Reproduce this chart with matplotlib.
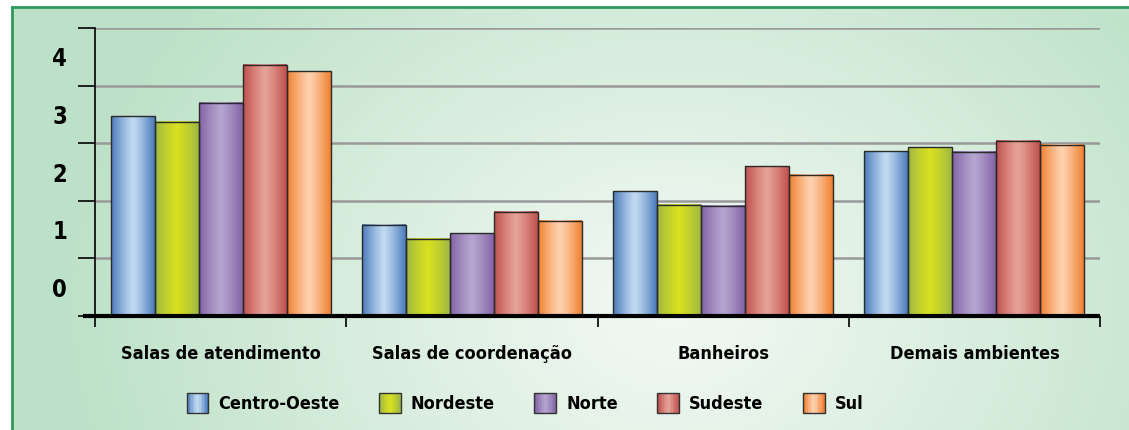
import numpy as np
import matplotlib
matplotlib.use('Agg')
import matplotlib.pyplot as plt
from matplotlib import font_manager
from matplotlib.patches import Rectangle
from matplotlib.lines import Line2D
from matplotlib.legend_handler import HandlerBase
from matplotlib.colors import to_rgb

categories = ['Salas de atendimento', 'Salas de coordenação', 'Banheiros', 'Demais ambientes']
regions = ['Centro-Oeste', 'Nordeste', 'Norte', 'Sudeste', 'Sul']
centro_oeste = [3.47, 1.58, 2.17, 2.86]
nordeste = [3.37, 1.34, 1.93, 2.93]
norte = [3.70, 1.44, 1.91, 2.85]
sudeste = [4.36, 1.81, 2.60, 3.04]
sul = [4.25, 1.65, 2.45, 2.97]
y_labels = ['0', '1', '2', '3', '4']

series = [centro_oeste, nordeste, norte, sudeste, sul]
dark = ['#4a7bbb', '#a0b844', '#8363a5', '#c0504d', '#f08030']
light = ['#c2daf2', '#d8e020', '#b5a5d0', '#e6a398', '#fed2b0']

# pick a narrow font if one is around
fonts = font_manager.fontManager.ttflist
names = {f.name for f in fonts}
stretch = 'normal'
if 'Liberation Sans Narrow' in names:
    family = ['Liberation Sans Narrow', 'DejaVu Sans']
    size = 15
elif any(f.name == 'DejaVu Sans' and f.stretch == 'condensed' for f in fonts):
    family = ['DejaVu Sans']
    stretch = 'condensed'
    size = 13
else:
    family = ['DejaVu Sans']
    size = 12
plt.rcParams['font.family'] = family
plt.rcParams['font.weight'] = 'bold'
plt.rcParams['font.stretch'] = stretch


def gradient(c0, c1, n=64):
    u = np.linspace(0, 1, n)
    w = np.clip(1 - np.abs((u - 0.5) / 0.5) ** 1.2, 0, 1)
    a, b = np.array(to_rgb(c0)), np.array(to_rgb(c1))
    return a[None, :] + (b - a)[None, :] * w[:, None]


class GradHandler(HandlerBase):
    def __init__(self, c0, c1):
        super().__init__()
        self.cols = gradient(c0, c1, 14)

    def create_artists(self, legend, orig, xd, yd, width, height, fontsize, trans):
        x0, y0 = -xd, -yd
        n = len(self.cols)
        arts = []
        for k, c in enumerate(self.cols):
            arts.append(Rectangle((x0 + k * width / n, y0), width / n + 0.3, height,
                                  facecolor=c, lw=0, transform=trans))
        arts.append(Rectangle((x0, y0), width, height, fill=False, edgecolor='#333333',
                              lw=1, transform=trans))
        return arts


fig = plt.figure(figsize=(11.29, 4.30), dpi=100)
fig.patch.set_facecolor('white')

# background gradient panel
bg = fig.add_axes([12 / 1129, 0, 1 - 12 / 1129, 1 - 7 / 430], zorder=-10)
yy, xx = np.mgrid[0:423, 0:1117]
t = np.sqrt(((xx - 660) / 600.0) ** 2 + ((yy - 300) / 480.0) ** 2)
t = np.clip(t, 0, 1) ** 1.1
white = np.array([0.95, 0.975, 0.955])
green = np.array([0.745, 0.885, 0.785])
img = white[None, None, :] * (1 - t[..., None]) + green[None, None, :] * t[..., None]
bg.imshow(img, aspect='auto', extent=(0, 1, 0, 1))
bg.set_xlim(0, 1)
bg.set_ylim(0, 1)
bg.axis('off')
fig.add_artist(Line2D([12 / 1129, 12 / 1129], [0, 1 - 7 / 430], color='#2f9a5c', lw=2))
fig.add_artist(Line2D([12 / 1129, 1], [1 - 7 / 430, 1 - 7 / 430], color='#2f9a5c', lw=2))

ax = fig.add_axes([95 / 1129, 1 - 316 / 430, 1005 / 1129, 288 / 430])
ax.patch.set_alpha(0)

x = np.arange(len(categories))
bw = 0.175
for i, vals in enumerate(series):
    cols = gradient(dark[i], light[i])
    for xi, v in zip(x, vals):
        left = xi + (i - 2) * bw - bw / 2
        ax.imshow(cols[None, :, :], extent=(left, left + bw, 0, v), aspect='auto',
                  zorder=3, interpolation='bilinear')
        ax.add_patch(Rectangle((left, 0), bw, v, fill=False, edgecolor='#2a2a2a',
                               lw=1.0, zorder=4))

ax.set_xlim(-0.5, 3.5)
ax.set_ylim(0, 5)
for g in range(1, 6):
    ax.axhline(g, color='#999999', lw=1.8, zorder=1)

for s in ['top', 'right']:
    ax.spines[s].set_visible(False)
ax.spines['bottom'].set_visible(False)
ax.spines['left'].set_color('black')
ax.spines['left'].set_linewidth(1.2)
ax.plot([-0.5 - 12 / 251, 3.5], [0, 0], color='black', lw=3, clip_on=False, zorder=5,
        solid_capstyle='butt')

ax.set_yticks(range(6))
ax.set_yticklabels([])
ax.tick_params(axis='y', which='major', length=12, width=1.2, color='black')
ax.set_yticks(np.arange(0.5, 5, 1), minor=True)
ax.set_yticklabels(y_labels, minor=True, fontsize=size + 4, fontweight='bold')
ax.tick_params(axis='y', which='minor', length=0, pad=20)

ax.set_xticks(np.arange(-0.5, 4, 1))
ax.set_xticklabels([])
ax.tick_params(axis='x', which='major', length=8, width=1.2, color='black', direction='out')
ax.set_xticks(x, minor=True)
ax.set_xticklabels(categories, minor=True, fontsize=size, fontweight='bold')
ax.tick_params(axis='x', which='minor', length=0, pad=21)

handles = [Rectangle((0, 0), 1, 1) for _ in regions]
hmap = {h: GradHandler(dark[i], light[i]) for i, h in enumerate(handles)}
fig.legend(handles, regions, handler_map=hmap, loc='center', bbox_to_anchor=(0.465, 0.063),
           ncol=5, frameon=False, handlelength=1.2, handleheight=1.35,
           handletextpad=0.55, columnspacing=2.2,
           prop={'family': family, 'weight': 'bold', 'size': size, 'stretch': stretch})

fig.savefig('out.png', dpi=100)
